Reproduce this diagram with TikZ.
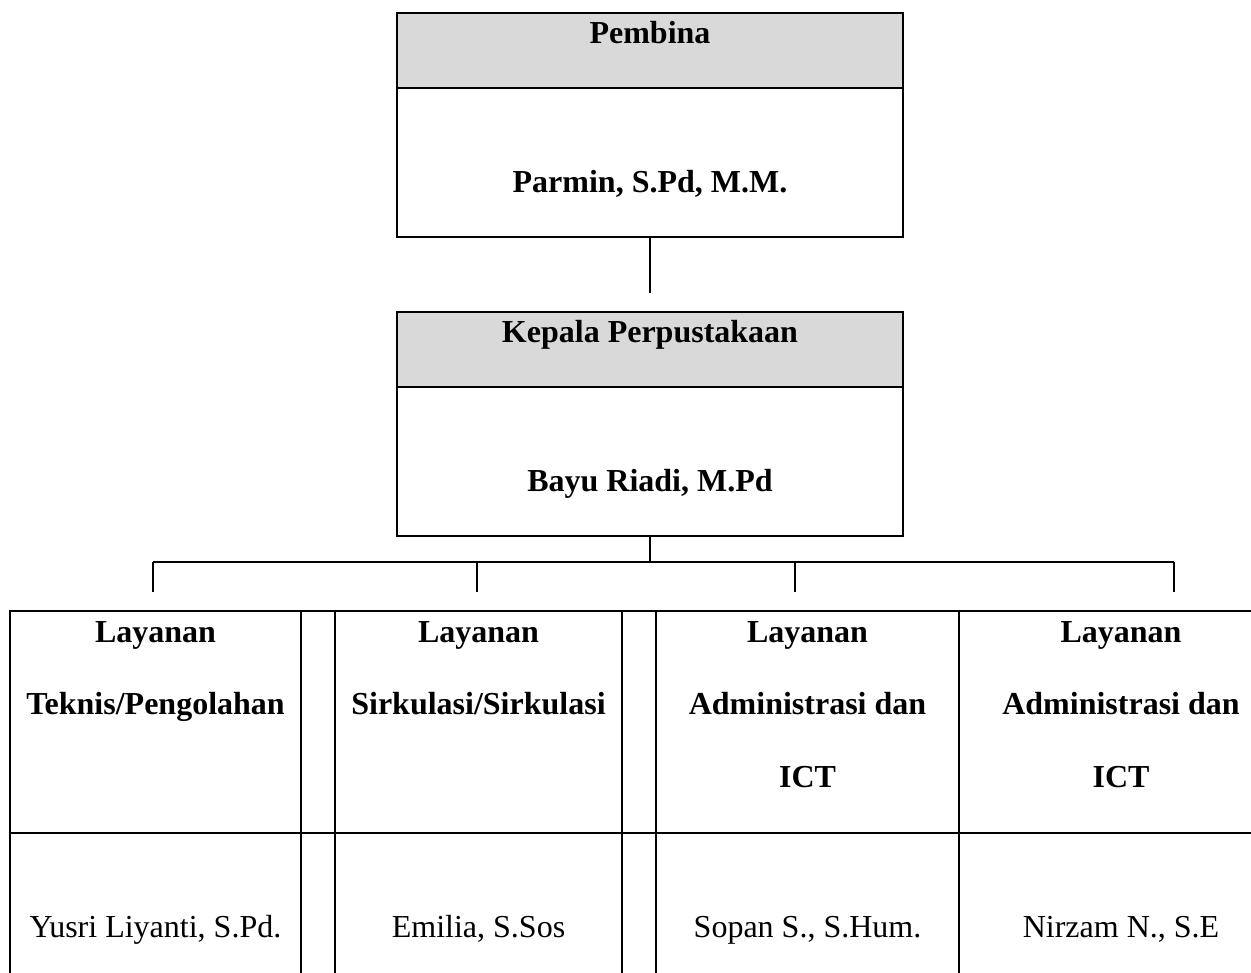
\documentclass[tikz,border=0pt]{standalone}
\usepackage{fontspec}
\setmainfont{Liberation Serif}
\usetikzlibrary{positioning}

\definecolor{headGray}{HTML}{D9D9D9}

\tikzset{
	box/.style={draw, line width=2pt, inner sep=0pt, outer sep=0pt},
	headbox/.style={box, fill=headGray},
	txt/.style={anchor=base, inner sep=0pt, font=\fontsize{32}{38}\selectfont},
	btxt/.style={anchor=base, inner sep=0pt, font=\fontsize{32}{38}\selectfont\bfseries},
	conn/.style={line width=1.4pt}
}

\begin{document}
\begin{tikzpicture}[x=1pt, y=-1pt]
		\newcommand*{\boxWidth}{506pt}
		\newcommand*{\cellHeight}{222pt}

		\useasboundingbox (0,0) rectangle (1251,973);

		% upper boxes
		\node[headbox, minimum width=\boxWidth, minimum height=75pt] (pembinaHead) at (650,50.5) {};
		\node[box, minimum width=\boxWidth, minimum height=149pt, below=0pt of pembinaHead] (pembinaBody) {};
		\node[headbox, minimum width=\boxWidth, minimum height=75pt] (kepalaHead) at (650,349.5) {};
		\node[box, minimum width=\boxWidth, minimum height=149pt, below=0pt of kepalaHead] (kepalaBody) {};

		\node[btxt] (pembinaLbl) at (650,44) {Pembina};
		\node[btxt] (parminLbl) at (650,193) {Parmin, S.Pd, M.M.};
		\node[btxt] (kepalaLbl) at (650,343) {Kepala Perpustakaan};
		\node[btxt] (bayuLbl) at (650,492) {Bayu Riadi, M.Pd};

		% table of the four services
		\node[box, minimum width=291pt, minimum height=\cellHeight] (teknisHead) at (155.5,722) {};
		\node[box, minimum width=34pt, minimum height=\cellHeight] (gapOneHead) at (318,722) {};
		\node[box, minimum width=287pt, minimum height=\cellHeight] (sirkHead) at (478.5,722) {};
		\node[box, minimum width=34pt, minimum height=\cellHeight] (gapTwoHead) at (639,722) {};
		\node[box, minimum width=303pt, minimum height=\cellHeight] (adminHead) at (807.5,722) {};
		\node[box, minimum width=324pt, minimum height=\cellHeight] (ictHead) at (1121,722) {};

		\node[box, minimum width=291pt, minimum height=\cellHeight, below=0pt of teknisHead] (teknisBody) {};
		\node[box, minimum width=34pt, minimum height=\cellHeight, below=0pt of gapOneHead] (gapOneBody) {};
		\node[box, minimum width=287pt, minimum height=\cellHeight, below=0pt of sirkHead] (sirkBody) {};
		\node[box, minimum width=34pt, minimum height=\cellHeight, below=0pt of gapTwoHead] (gapTwoBody) {};
		\node[box, minimum width=303pt, minimum height=\cellHeight, below=0pt of adminHead] (adminBody) {};
		\node[box, minimum width=324pt, minimum height=\cellHeight, below=0pt of ictHead] (ictBody) {};

		\node[btxt] (teknisA) at (155.5,642) {Layanan};
		\node[btxt] (teknisB) at (155.5,714) {Teknis/Pengolahan};
		\node[btxt] (sirkA) at (478.5,642) {Layanan};
		\node[btxt] (sirkB) at (478.5,714) {Sirkulasi/Sirkulasi};
		\node[btxt] (adminA) at (807.5,642) {Layanan};
		\node[btxt] (adminB) at (807.5,714) {Administrasi dan};
		\node[btxt] (adminC) at (807.5,787) {ICT};
		\node[btxt] (ictA) at (1121,642) {Layanan};
		\node[btxt] (ictB) at (1121,714) {Administrasi dan};
		\node[btxt] (ictC) at (1121,787) {ICT};

		\node[txt] (teknisName) at (155.5,937) {Yusri Liyanti, S.Pd.};
		\node[txt] (sirkName) at (478.5,937) {Emilia, S.Sos};
		\node[txt] (adminName) at (807.5,937) {Sopan S., S.Hum.};
		\node[txt] (ictName) at (1121,937) {Nirzam N., S.E};

		% connectors
		\coordinate (pembinaEnd) at (650,293);
		\coordinate (busMid) at (650,562);
		\coordinate (busL) at (153,562);
		\coordinate (busR) at (1174,562);
		\coordinate (dropA) at (153,592);
		\coordinate (dropB) at (477,592);
		\coordinate (dropC) at (795,592);
		\coordinate (dropD) at (1174,592);

		\draw[conn] (pembinaBody.south) -- (pembinaEnd);
		\draw[conn] (kepalaBody.south) -- (busMid);
		\draw[conn] (busL) -- (busR);
		\draw[conn] (busL) -- (dropA);
		\draw[conn] (dropB |- busL) -- (dropB);
		\draw[conn] (dropC |- busL) -- (dropC);
		\draw[conn] (busR) -- (dropD);
\end{tikzpicture}
\end{document}
